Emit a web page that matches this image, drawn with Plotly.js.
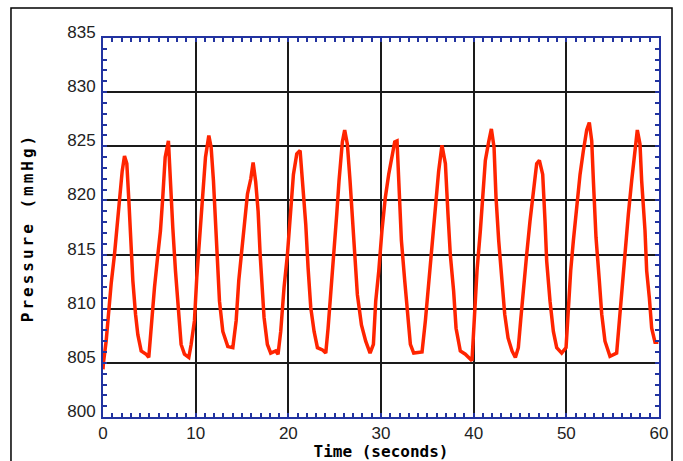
<!DOCTYPE html>
<html>
<head>
<meta charset="utf-8">
<script src="https://cdn.plot.ly/plotly-3.0.1.min.js"></script>
<style>
  html, body { margin: 0; padding: 0; background: #fff; }
  #chart { width: 683px; height: 461px; }
</style>
</head>
<body>
<div id="chart"></div>
<script>
// Time (seconds)
const timeSec = [
  0.0, 0.05, 0.34, 0.63, 0.88, 1.24, 1.49, 1.78, 2.07, 2.32, 2.57, 2.79, 3.04, 3.22, 3.51, 3.76, 4.12, 4.66, 4.94,
  5.3, 5.56, 5.92, 6.2, 6.45, 6.71, 7.06, 7.28, 7.53, 7.82, 8.14, 8.43, 8.79, 9.26,
  9.51, 9.87, 10.12, 10.41, 10.77, 11.06, 11.42, 11.67, 11.92, 12.14, 12.39, 12.57, 12.93, 13.47, 14.01,
  14.37, 14.65, 14.94, 15.3, 15.59, 15.95, 16.2, 16.48, 16.74, 16.96, 17.21, 17.38, 17.74, 18.1, 18.64, 18.89,
  19.18, 19.54, 19.9, 20.26, 20.55, 20.91, 21.27, 21.52, 21.88, 22.13, 22.42, 22.78, 23.14, 23.68, 24.04,
  24.29, 24.58, 24.94, 25.22, 25.47, 25.83, 26.08, 26.37, 26.66, 26.91, 27.16, 27.45, 27.89, 28.35, 28.82,
  29.18, 29.43, 29.76, 30.1, 30.47, 30.83, 31.19, 31.48, 31.73, 31.91, 32.2, 32.56, 32.92, 33.17, 33.53, 34.43,
  34.79, 35.15, 35.51, 35.87, 36.22, 36.58, 36.95, 37.23, 37.48, 37.84, 38.1, 38.56, 39.1, 39.82,
  40.11, 40.36, 40.72, 40.98, 41.26, 41.62, 41.91, 42.2, 42.41, 42.7, 42.99, 43.35, 43.71, 44.14, 44.5, 44.82,
  45.07, 45.36, 45.72, 46.08, 46.44, 46.8, 47.09, 47.45, 47.7, 47.88, 48.24, 48.6, 48.96, 49.5, 49.97,
  50.22, 50.47, 50.76, 51.12, 51.48, 51.84, 52.2, 52.48, 52.74, 52.92, 53.2, 53.56, 53.82, 54.17, 54.71, 55.43,
  55.72, 55.97, 56.33, 56.69, 57.05, 57.41, 57.66, 57.95, 58.13, 58.49, 58.67, 58.96, 59.21, 59.57, 59.93
];
// Pressure (mmHg)
const pressure = [
  804.4, 805.0, 807.0, 810.1, 812.3, 815.0, 817.5, 820.0, 822.7, 824.1, 823.4, 820.0, 815.6, 812.6, 809.5, 807.6, 806.1, 805.8, 805.5,
  809.5, 812.0, 815.0, 817.2, 820.3, 824.0, 825.5, 821.5, 817.5, 813.5, 809.5, 806.7, 805.8, 805.5,
  806.7, 808.9, 812.9, 816.6, 820.6, 824.0, 826.0, 824.9, 821.8, 817.5, 813.8, 810.7, 807.9, 806.5, 806.4,
  808.9, 812.6, 815.0, 818.0, 820.6, 822.0, 823.5, 821.7, 819.0, 815.0, 811.3, 809.2, 806.7, 805.9, 806.1, 805.8,
  807.9, 812.0, 815.0, 818.7, 822.4, 824.3, 824.6, 821.8, 817.8, 813.8, 810.1, 807.9, 806.4, 806.2, 805.9,
  808.2, 811.3, 815.0, 818.7, 821.8, 825.4, 826.5, 825.2, 821.8, 818.1, 814.7, 811.3, 808.5, 807.0, 805.9,
  806.7, 810.7, 813.5, 817.2, 820.3, 822.4, 824.3, 825.4, 825.5, 821.8, 816.3, 812.6, 808.9, 806.7, 805.9, 806.0,
  808.9, 812.6, 815.6, 819.4, 822.7, 825.1, 823.4, 818.7, 815.0, 811.6, 808.2, 806.1, 805.8, 805.2,
  809.5, 813.5, 817.2, 820.9, 823.7, 825.4, 826.6, 824.9, 820.3, 816.3, 813.2, 809.5, 807.3, 806.1, 805.5, 806.4,
  808.9, 812.0, 815.0, 818.1, 820.9, 823.4, 823.7, 822.4, 818.1, 814.4, 810.7, 807.9, 806.4, 805.9, 806.4,
  810.1, 813.5, 816.3, 819.4, 822.4, 824.6, 826.5, 827.2, 825.5, 821.8, 816.6, 812.6, 809.5, 807.0, 805.6, 805.9,
  808.9, 812.0, 815.6, 818.7, 821.8, 824.9, 826.5, 825.2, 821.8, 817.2, 813.5, 811.0, 808.2, 806.9, 806.9
];
const xTickVals = [0, 10, 20, 30, 40, 50, 60];
const yTickVals = [800, 805, 810, 815, 820, 825, 830, 835];

const axisBlue = '#2233a0';
const tickFont = { family: 'Liberation Sans, Arial, sans-serif', size: 17, color: '#222' };
const titleFont = { family: 'DejaVu Sans Mono, monospace', size: 16, color: '#000', weight: 'bold' };

const trace = {
  x: timeSec, y: pressure, type: 'scatter', mode: 'lines',
  line: { color: '#ff2400', width: 3.5 }, hoverinfo: 'skip'
};

const layout = {
  width: 683, height: 461,
  margin: { l: 103, r: 24, t: 38, b: 44 },
  paper_bgcolor: '#fff', plot_bgcolor: '#fff',
  showlegend: false,
  xaxis: {
    range: [0, 60], tickvals: xTickVals, ticktext: xTickVals.map(String),
    showgrid: true, gridcolor: '#1a1a1a', gridwidth: 2, zeroline: false,
    showline: true, linecolor: axisBlue, linewidth: 2, mirror: 'allticks',
    ticks: 'inside', ticklen: 4, tickcolor: axisBlue, tickwidth: 2,
    minor: { dtick: 1, ticks: 'inside', ticklen: 4, tickcolor: axisBlue, tickwidth: 2, showgrid: false },
    tickfont: tickFont,
    title: { text: 'Time (seconds)', font: titleFont, standoff: 7 },
    automargin: false
  },
  yaxis: {
    range: [800, 835], tickvals: yTickVals, ticktext: yTickVals.map(String),
    showgrid: true, gridcolor: '#1a1a1a', gridwidth: 2, zeroline: false,
    showline: true, linecolor: axisBlue, linewidth: 2, mirror: 'allticks',
    ticks: 'inside', ticklen: 4, tickcolor: axisBlue, tickwidth: 2,
    minor: { dtick: 1, ticks: 'inside', ticklen: 4, tickcolor: axisBlue, tickwidth: 2, showgrid: false },
    tickfont: tickFont, ticklabelshift: -6, ticklabelstandoff: 2,
    title: { text: 'Pressure (mmHg)', font: titleFont, standoff: 30 },
    automargin: false
  },
  shapes: [{
    type: 'rect', xref: 'paper', yref: 'paper',
    x0: -0.1655, x1: 1.0234, y0: -0.2, y1: 1.079,
    line: { color: '#000', width: 1.5 }, layer: 'below'
  }]
};

Plotly.newPlot('chart', [trace], layout, { displayModeBar: false, staticPlot: true }).then(function () {
  const yt = document.querySelector('.ytitle');
  if (yt) { yt.style.letterSpacing = '3px'; }
});
</script>
</body>
</html>
